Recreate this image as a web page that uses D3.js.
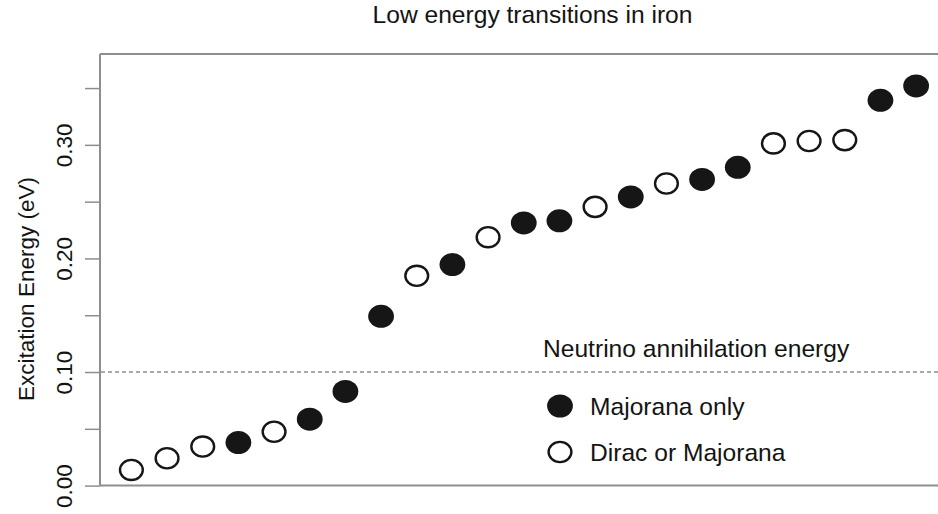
<!DOCTYPE html>
<html><head><meta charset="utf-8">
<script src="https://cdn.jsdelivr.net/npm/d3@7"></script>
<style>html,body{margin:0;padding:0;background:#fff;} svg{display:block;font-family:"Liberation Sans",Arial,sans-serif;}</style>
</head><body>
<script>
// Data
const transitionIndex = [1,2,3,4,5,6,7,8,9,10,11,12,13,14,15,16,17,18,19,20,21,22,23];
const excitationEnergy = [0.0138,0.0241,0.0344,0.0379,0.0474,0.0585,0.0829,0.149,0.1847,0.1946,0.2187,0.2313,0.2331,0.2454,0.2542,0.2660,0.2696,0.2802,0.3013,0.3034,0.3042,0.3392,0.3519];
const transitionType = ["D","D","D","M","D","M","M","M","D","M","D","M","M","D","M","D","M","M","D","D","D","M","M"];
const yTicks = [0,0.05,0.10,0.15,0.20,0.25,0.30,0.35];
const yTickLabels = ["0.00","","0.10","","0.20","","0.30",""];
const annihilationEnergy = 0.10;
const legendLabels = ["Majorana only","Dirac or Majorana"];
const legendTypes = ["M","D"];
const titleText = "Low energy transitions in iron";
const yTitle = "Excitation Energy (eV)";
const thresholdLabel = "Neutrino annihilation energy";

const W = 938, H = 514;
const svg = d3.select("body").append("svg").attr("width", W).attr("height", H);

const x = d3.scaleLinear().domain([0.12, 23.88]).range([100, 947.5]);
const y = d3.scaleLinear().domain([0, 0.38]).range([485.6, 54]);

const axisColor = "#8e8e8e";
const textColor = "#141414";
const hFont = 24.6;

// box (top, bottom, left)
svg.append("line").attr("x1",100).attr("x2",W).attr("y1",y(0.38)).attr("y2",y(0.38)).attr("stroke",axisColor).attr("stroke-width",2);
svg.append("line").attr("x1",100).attr("x2",W).attr("y1",y(0)).attr("y2",y(0)).attr("stroke",axisColor).attr("stroke-width",2);

// y axis
const yAxis = d3.axisLeft(y).tickValues(yTicks).tickSize(15).tickFormat("");
const gy = svg.append("g").attr("transform","translate(100,0)").call(yAxis);
gy.select(".domain").attr("stroke",axisColor).attr("stroke-width",2).attr("d", `M0,${y(0.38)}V${y(0)}`);
gy.selectAll(".tick line").attr("stroke",axisColor).attr("stroke-width",1.5);
gy.selectAll(".tick").each(function(d,i){
  if (!yTickLabels[i]) return;
  d3.select(this).append("text")
    .attr("transform","translate(-36,0) rotate(-90)")
    .attr("text-anchor","middle").attr("dy","0.35em")
    .attr("fill",textColor).attr("font-size",22.5)
    .text(yTickLabels[i]);
});

// y title
svg.append("text").attr("transform",`translate(34,${289}) rotate(-90)`)
  .attr("text-anchor","middle").attr("fill",textColor).attr("font-size",22.5).text(yTitle);

// title
svg.append("text").attr("x",532.5).attr("y",23).attr("text-anchor","middle")
  .attr("fill",textColor).attr("font-size",hFont).text(titleText);

// threshold line
svg.append("line").attr("x1",101).attr("x2",W).attr("y1",y(annihilationEnergy)).attr("y2",y(annihilationEnergy))
  .attr("stroke","#555").attr("stroke-width",1).attr("stroke-dasharray","4,3");
svg.append("text").attr("x",543).attr("y",357).attr("fill",textColor).attr("font-size",hFont).text(thresholdLabel);

// points
function drawMarker(g, cx, cy, type){
  if (type === "M") {
    g.append("ellipse").attr("cx",cx).attr("cy",cy).attr("rx",12.9).attr("ry",11.5).attr("fill","#161616");
  } else {
    g.append("ellipse").attr("cx",cx).attr("cy",cy).attr("rx",11.4).attr("ry",10.1)
      .attr("fill","#fff").attr("stroke","#161616").attr("stroke-width",2.4);
  }
}
const pts = svg.append("g");
transitionIndex.forEach((xi,i)=> drawMarker(pts, x(xi), y(excitationEnergy[i]), transitionType[i]));

// legend
const leg = svg.append("g");
legendLabels.forEach((lab,i)=>{
  const cy = 406 + i*46;
  drawMarker(leg, 560, cy, legendTypes[i]);
  leg.append("text").attr("x",590).attr("y",cy).attr("dy","0.35em")
    .attr("fill",textColor).attr("font-size",hFont).text(lab);
});
</script>
</body></html>
